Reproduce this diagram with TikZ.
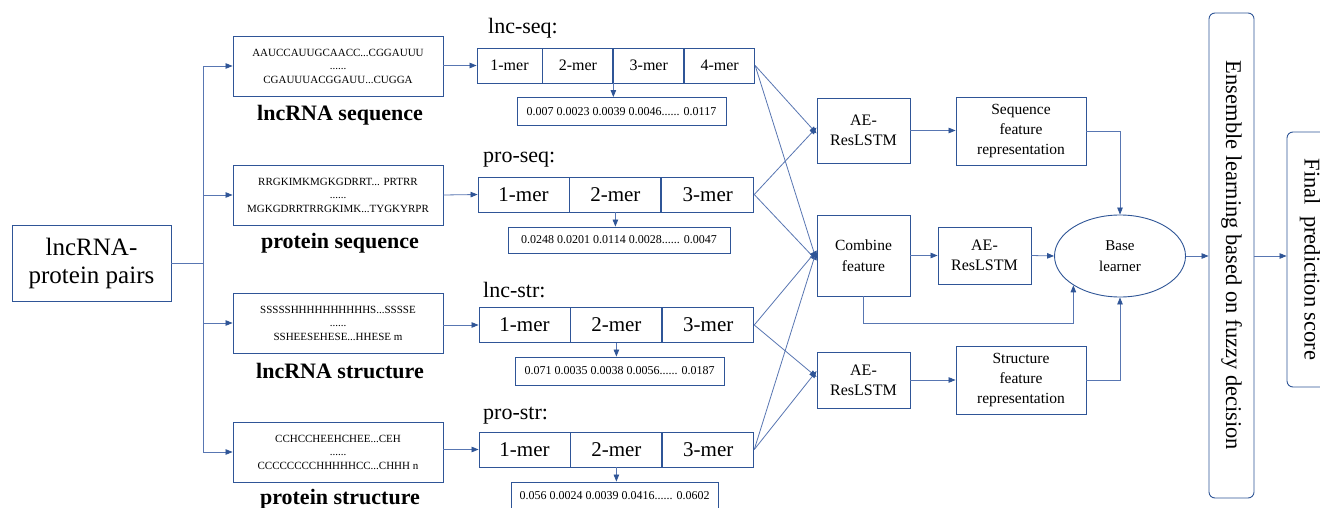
\documentclass[tikz,border=0pt]{standalone}
\usepackage{fontspec}
\setmainfont{Liberation Serif}
\usetikzlibrary{positioning,arrows.meta,shapes.geometric}
\definecolor{boxblue}{RGB}{47,85,151}
\definecolor{lineblue}{RGB}{88,118,178}

\begin{document}
\begin{tikzpicture}[x=1pt, y=-1pt,
    box/.style={draw=boxblue, line width=0.9pt, rectangle, align=center, inner sep=2pt},
    cell/.style={draw=boxblue, line width=0.9pt, rectangle, inner sep=0pt, minimum height=35, font=\fontsize{21}{21}\selectfont},
    valbox/.style={draw=boxblue, line width=0.9pt, rectangle, inner sep=0pt, minimum height=28, font=\fontsize{12}{12}\selectfont},
    seqbox/.style={box, minimum width=210, minimum height=60, font=\fontsize{11}{13.5}\selectfont},
    title/.style={font=\fontsize{22}{22}\selectfont\bfseries},
    kind/.style={anchor=west, inner sep=0pt, font=\fontsize{22}{22}\selectfont},
    arr/.style={-{Triangle[length=7pt, width=5.5pt, color=boxblue]}, draw=lineblue, line width=0.8pt},
    link/.style={draw=lineblue, line width=0.8pt}]

    \useasboundingbox (0,0) rectangle (1320,508);
    \clip (0,0) rectangle (1320,508);
    \fill[white] (0,0) rectangle (1320,508);

    % Input pair and the four inputs
    \node[box, minimum width=159, minimum height=76, font=\fontsize{25}{28}\selectfont] (pairs) at (91.5,263) {lncRNA-\\protein pairs};

    \node[seqbox] (lncseqin) at (338,66) {AAUCCAUUGCAACC...CGGAUUU\\......\\CGAUUUACGGAUU...CUGGA};
    \node[seqbox] (proseqin) at (338,195) {RRGKIMKMGKGDRRT... PRTRR\\......\\MGKGDRRTRRGKIMK...TYGKYRPR};
    \node[seqbox] (lncstrin) at (338,323) {SSSSSHHHHHHHHHHS...SSSSE\\......\\SSHEESEHESE...HHESE m};
    \node[seqbox] (prostrin) at (338,452) {CCHCCHEEHCHEE...CEH\\......\\CCCCCCCCHHHHHCC...CHHH n};

    \node[title] (lncseqname) at (340,115) {lncRNA sequence};
    \node[title] (proseqname) at (340,243) {protein sequence};
    \node[title] (lncstrname) at (340,371) {lncRNA structure};
    \node[title] (prostrname) at (340,499) {protein structure};

    % Tree from the pairs to the inputs
    \draw[link] (pairs.east) -- ++(32,0) coordinate (trunk);
    \draw[arr] (trunk) |- (lncseqin.west);
    \draw[arr] (trunk) |- (proseqin.west);
    \draw[arr] (trunk) |- (lncstrin.west);
    \draw[arr] (trunk) |- (prostrin.west);

    % k-mer rows
    \node[kind] (lncseqkind) at (488,28) {lnc-seq:};
    \node[cell, minimum width=65, font=\fontsize{16}{16}\selectfont] (lncseq1) at (509.5,65.5) {1-mer};
    \node[cell, minimum width=70, font=\fontsize{16}{16}\selectfont, right=0pt of lncseq1] (lncseq2) {2-mer};
    \node[cell, minimum width=70, font=\fontsize{16}{16}\selectfont, right=0pt of lncseq2] (lncseq3) {3-mer};
    \node[cell, minimum width=70, font=\fontsize{16}{16}\selectfont, right=0pt of lncseq3] (lncseq4) {4-mer};
    \node[valbox, minimum width=209] (lncseqval) at (621.5,111.5) {0.007 0.0023 0.0039 0.0046...... 0.0117};

    \node[kind] (proseqkind) at (483,160) {pro-seq:};
    \node[cell, minimum width=91] (proseq1) at (523.5,194.5) {1-mer};
    \node[cell, minimum width=91, right=0pt of proseq1] (proseq2) {2-mer};
    \node[cell, minimum width=92, right=0pt of proseq2] (proseq3) {3-mer};
    \node[valbox, minimum width=222, minimum height=26] (proseqval) at (619,240) {0.0248 0.0201 0.0114 0.0028...... 0.0047};

    \node[kind] (lncstrkind) at (483,290) {lnc-str:};
    \node[cell, minimum width=91] (lncstr1) at (524.5,325) {1-mer};
    \node[cell, minimum width=91, right=0pt of lncstr1] (lncstr2) {2-mer};
    \node[cell, minimum width=91, right=0pt of lncstr2] (lncstr3) {3-mer};
    \node[valbox, minimum width=209] (lncstrval) at (619.5,371) {0.071 0.0035 0.0038 0.0056...... 0.0187};

    \node[kind] (prostrkind) at (483,416) {pro-str:};
    \node[cell, minimum width=91] (prostr1) at (524.5,449.5) {1-mer};
    \node[cell, minimum width=91, right=0pt of prostr1] (prostr2) {2-mer};
    \node[cell, minimum width=91, right=0pt of prostr2] (prostr3) {3-mer};
    \node[valbox, minimum width=207] (prostrval) at (614.5,496) {0.056 0.0024 0.0039 0.0416...... 0.0602};

    \draw[arr] (lncseqin.east |- lncseq1.west) -- (lncseq1.west);
    \draw[arr] (proseqin.east) -- (proseq1.west);
    \draw[arr] (lncstrin.east |- lncstr1.west) -- (lncstr1.west);
    \draw[arr] (prostrin.east |- prostr1.west) -- (prostr1.west);

    \draw[arr] (lncseq2.south east) -- (lncseq2.south east |- lncseqval.north);
    \draw[arr] (proseq2.south) -- (proseq2.south |- proseqval.north);
    \draw[arr] (lncstr2.south) -- (lncstr2.south |- lncstrval.north);
    \draw[arr] (prostr2.south) -- (prostr2.south |- prostrval.north);

    % Feature learning
    \node[box, minimum width=93, minimum height=65, font=\fontsize{16}{20}\selectfont] (seqae) at (863.5,130.5) {AE-\\ResLSTM};
    \node[box, minimum width=130, minimum height=68, font=\fontsize{15.5}{20}\selectfont] (seqrep) at (1021,131) {Sequence\\feature\\representation};
    \node[box, minimum width=93, minimum height=81, font=\fontsize{15.5}{21}\selectfont] (combine) at (863.5,255.5) {Combine\\feature};
    \node[box, minimum width=93, minimum height=57, font=\fontsize{16}{20}\selectfont] (combae) at (984.5,255.5) {AE-\\ResLSTM};
    \node[draw=boxblue, line width=0.9pt, ellipse, inner sep=0pt, minimum width=131, minimum height=82, align=center, font=\fontsize{15}{21}\selectfont] (base) at (1120,256) {Base\\learner};
    \node[box, minimum width=93, minimum height=56, font=\fontsize{16}{20}\selectfont] (strae) at (863.5,380) {AE-\\ResLSTM};
    \node[box, minimum width=130, minimum height=68, font=\fontsize{15.5}{20}\selectfont] (strrep) at (1021,380) {Structure\\feature\\representation};

    \draw[arr] (lncseq4.east) -- ([yshift=-3]seqae.west);
    \draw[arr] (proseq3.east) -- ([yshift=3]seqae.west);
    \draw[arr] (lncseq4.east) -- ([yshift=-5]combine.west);
    \draw[arr] (proseq3.east) -- ([yshift=-5]combine.west);
    \draw[arr] (lncstr3.east) -- ([yshift=5]combine.west);
    \draw[arr] (prostr3.east) -- ([yshift=5]combine.west);
    \draw[arr] (lncstr3.east) -- ([yshift=3]strae.west);
    \draw[arr] (prostr3.east) -- ([yshift=9]strae.west);

    \draw[arr] (seqae.east) -- (seqrep.west |- seqae.east);
    \draw[arr] (combine.east) -- (combae.west);
    \draw[arr] (combae.east) -- (base.west);
    \draw[arr] (strae.east) -- (strrep.west |- strae.east);
    \draw[arr] (seqrep.east) -| (base.north);
    \draw[arr] (strrep.east) -| (base.south);
    \draw[arr] (combine.south) -- ++(0,27) -| (base.south west);

    % Ensemble and output (rotated: south is the left side)
    \node[draw=boxblue, line width=0.9pt, rounded corners=6pt, rotate=-90, minimum width=485, minimum height=45, inner sep=0pt, font=\fontsize{22.5}{22.5}\selectfont] (ensemble) at (1231.5,255.5) {Ensemble learning based on fuzzy decision};
    \node[draw=boxblue, line width=0.9pt, rounded corners=6pt, rotate=-90, minimum width=255, minimum height=46, inner sep=0pt, font=\fontsize{22.5}{22.5}\selectfont] (final) at (1310,259.5) {Final~~prediction score};

    \draw[arr] (base.east) -- (ensemble.south |- base.east);
    \draw[arr] (ensemble.north |- base.east) -- (final.south |- base.east);
\end{tikzpicture}
\end{document}
